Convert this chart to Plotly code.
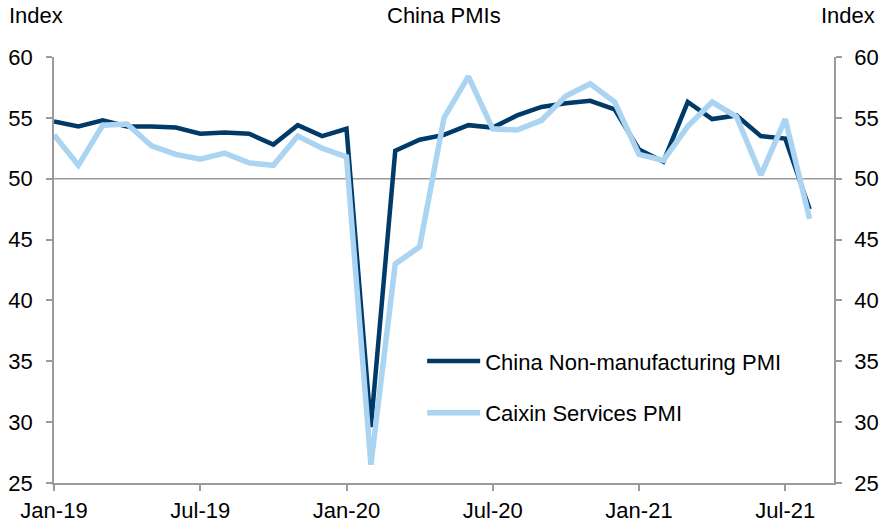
import plotly.graph_objects as go

months = ["Jan-19", "Feb-19", "Mar-19", "Apr-19", "May-19", "Jun-19", "Jul-19", "Aug-19",
          "Sep-19", "Oct-19", "Nov-19", "Dec-19", "Jan-20", "Feb-20", "Mar-20", "Apr-20",
          "May-20", "Jun-20", "Jul-20", "Aug-20", "Sep-20", "Oct-20", "Nov-20", "Dec-20",
          "Jan-21", "Feb-21", "Mar-21", "Apr-21", "May-21", "Jun-21", "Jul-21", "Aug-21"]

non_manufacturing_pmi = [54.7, 54.3, 54.8, 54.3, 54.3, 54.2, 53.7, 53.8, 53.7, 52.8, 54.4, 53.5,
                         54.1, 29.6, 52.3, 53.2, 53.6, 54.4, 54.2, 55.2, 55.9, 56.2, 56.4, 55.7,
                         52.4, 51.4, 56.3, 54.9, 55.2, 53.5, 53.3, 47.5]

caixin_services_pmi = [53.6, 51.1, 54.4, 54.5, 52.7, 52.0, 51.6, 52.1, 51.3, 51.1, 53.5, 52.5,
                       51.8, 26.5, 43.0, 44.4, 55.0, 58.4, 54.1, 54.0, 54.8, 56.8, 57.8, 56.3,
                       52.0, 51.5, 54.3, 56.3, 55.1, 50.3, 54.9, 46.7]

tick_labels = ["Jan-19", "Jul-19", "Jan-20", "Jul-20", "Jan-21", "Jul-21"]
y_ticks = [25, 30, 35, 40, 45, 50, 55, 60]

x = list(range(len(months)))
tick_vals = [months.index(t) for t in tick_labels]

FONT = "Arial, Liberation Sans, sans-serif"
FS = 22
DARK = "#003a68"
LIGHT = "#aad4f2"
AXIS = "#9a9a9a"

fig = go.Figure()
fig.add_trace(go.Scatter(x=x, y=non_manufacturing_pmi, mode="lines",
                         name="China Non-manufacturing PMI", legendgroup="a",
                         line=dict(color=DARK, width=4.5), hoverinfo="skip"))
fig.add_trace(go.Scatter(x=x, y=caixin_services_pmi, mode="lines",
                         name="Caixin Services PMI", legendgroup="b",
                         line=dict(color=LIGHT, width=5.5), hoverinfo="skip"))
# duplicate y axis on the right
fig.add_trace(go.Scatter(x=[x[0]], y=[None], yaxis="y2", showlegend=False, hoverinfo="skip"))

fig.add_hline(y=50, line=dict(color=AXIS, width=1.5), layer="below")

axis_common = dict(showgrid=False, zeroline=False, showline=True, linecolor=AXIS, linewidth=1.5,
                   ticks="outside", ticklen=6, tickcolor=AXIS, tickwidth=1.5,
                   tickfont=dict(family=FONT, size=FS, color="#000000"), fixedrange=True,
                   automargin=False)

fig.update_layout(
    width=880, height=524,
    margin=dict(l=54, r=46, t=57, b=41),
    paper_bgcolor="white", plot_bgcolor="white",
    font=dict(family=FONT, size=FS, color="#000000"),
    showlegend=True,
    legend=dict(x=0.472, y=0.335, xanchor="left", yanchor="top",
                bgcolor="rgba(0,0,0,0)", tracegroupgap=20,
                font=dict(family=FONT, size=FS, color="#000000"),
                itemwidth=53),
    xaxis=dict(range=[0, 32], tickvals=tick_vals, ticktext=tick_labels,
               ticklabelstandoff=1, **axis_common),
    yaxis=dict(range=[25, 60], tickvals=y_ticks, ticklabelstandoff=9, **axis_common),
    yaxis2=dict(range=[25, 60], tickvals=y_ticks, overlaying="y", side="right",
                ticklabelstandoff=8, **axis_common),
    annotations=[
        dict(text="Index", xref="paper", yref="paper", x=-0.060, y=1.097,
             xanchor="left", yanchor="middle", showarrow=False, font=dict(size=FS)),
        dict(text="China PMIs", xref="paper", yref="paper", x=0.5, y=1.097,
             xanchor="center", yanchor="middle", showarrow=False, font=dict(size=FS)),
        dict(text="Index", xref="paper", yref="paper", x=1.0551, y=1.097,
             xanchor="right", yanchor="middle", showarrow=False, font=dict(size=FS)),
    ],
)

fig.write_html("out.html", config={"displayModeBar": False},
               post_script="document.body.style.margin='0';document.body.style.overflow='hidden';")
